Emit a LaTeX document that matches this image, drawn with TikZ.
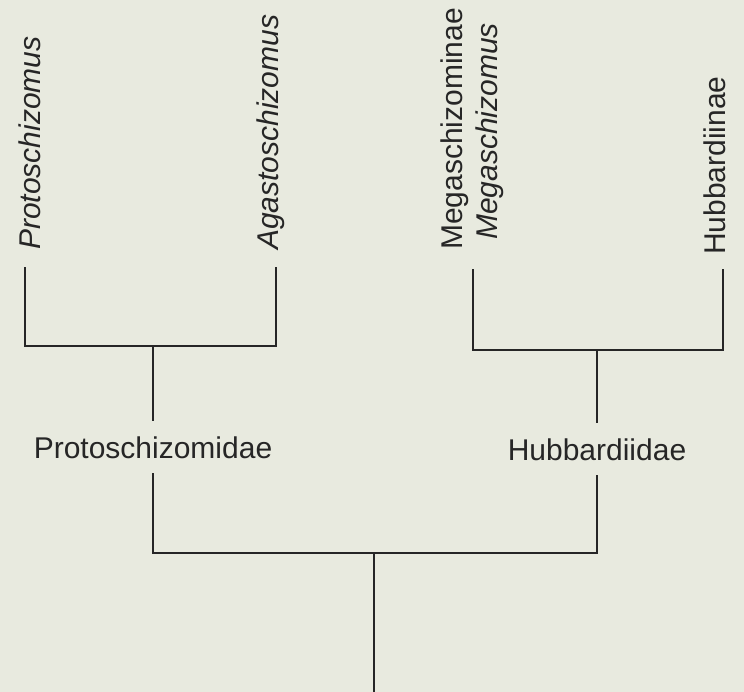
\documentclass[tikz,border=0pt]{standalone}
\usepackage{fontspec}
\setmainfont{Liberation Sans}
\usetikzlibrary{positioning}
\definecolor{paper}{RGB}{232,234,223}
\definecolor{ink}{RGB}{38,38,38}

\tikzset{
  branch/.style={line width=2.2pt,ink,line cap=rect},
  taxon/.style={rotate=90,anchor=base west,inner sep=0pt,text=ink,
    font=\fontsize{30}{36}\selectfont},
  family/.style={anchor=base,inner xsep=0pt,inner ysep=16pt,text=ink,
    font=\fontsize{30}{36}\selectfont}
}

\begin{document}
\begin{tikzpicture}[x=1pt,y=-1pt]
% sheet
\fill[paper] (0,0) rectangle (744,692);
\useasboundingbox (0,0) rectangle (744,692);
% terminal taxa
\node[taxon] (proto) at (40,250) {\itshape Protoschizomus};
\node[taxon] (agast) at (278,250) {\itshape Agastoschizomus};
\node[taxon] (megsub) at (462,250) {Megaschizominae};
\node[taxon] (meggen) at (497,240) {\itshape Megaschizomus};
\node[taxon] (hubsub) at (725,255) {Hubbardiinae};
% families
\node[family] (protoF) at (153,458) {Protoschizomidae};
\node[family] (hubbF) at (597,460) {Hubbardiidae};
% branch tips and junctions
\coordinate (tProto) at (25,268);
\coordinate (tAgast) at (276,268);
\coordinate (tMeg) at (473,270);
\coordinate (tHub) at (723,270);
\coordinate (jProto) at (153,346);
\coordinate (jHub) at (597,350);
\coordinate (jRoot) at (374,553);
\coordinate (base) at (374,692);
% Protoschizomidae clade
\draw[branch] (tProto) |- (jProto) -| (tAgast);
\draw[branch] (jProto) -- (protoF.north);
% Hubbardiidae clade
\draw[branch] (tMeg) |- (jHub) -| (tHub);
\draw[branch] (jHub) -- (hubbF.north);
% root
\draw[branch] (protoF.south) |- (jRoot) -| (hubbF.south);
\draw[branch] (jRoot) -- (base);
\end{tikzpicture}
\end{document}
